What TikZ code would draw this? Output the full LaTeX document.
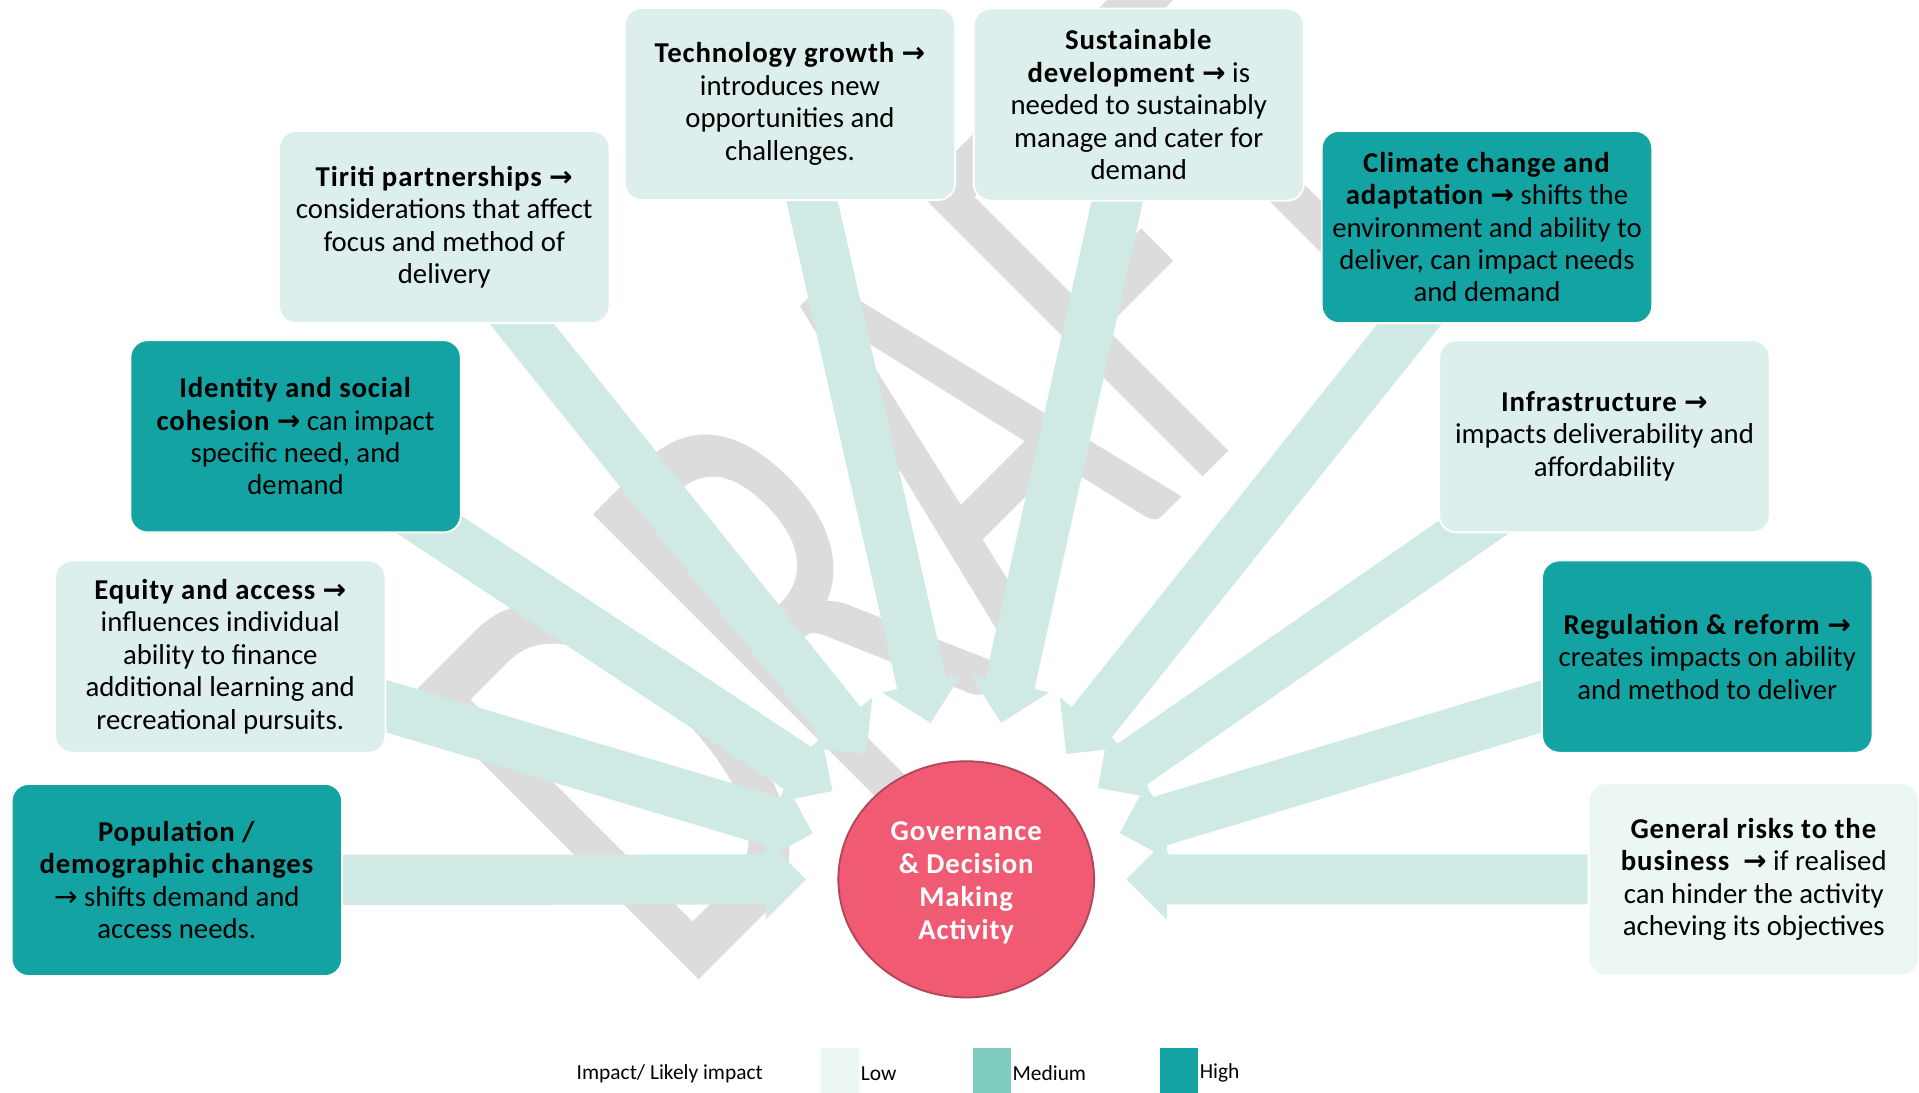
\documentclass[tikz,border=0pt]{standalone}
\usepackage{fontspec}
\setmainfont{Carlito}[BoldFeatures={LetterSpace=3}]
\newfontfamily\arrfont{DejaVu Sans}
\newfontfamily\wmfont{Carlito}
\usetikzlibrary{calc,shapes.geometric}
\definecolor{high}{HTML}{13A3A3}
\definecolor{lowA}{HTML}{DCEFEC}
\definecolor{lowB}{HTML}{ECF7F5}
\definecolor{med}{HTML}{7FCDC0}
\definecolor{flowc}{HTML}{CFEAE5}
\definecolor{circfill}{HTML}{F05A72}
\definecolor{circline}{HTML}{B0465A}
\definecolor{wmc}{HTML}{DCDCDC}
\newcommand\myarrow{{\arrfont\fontsize{23}{23}\selectfont →}}
\pgfdeclarelayer{bg}
\pgfdeclarelayer{wm}
\pgfdeclarelayer{arr}
\pgfsetlayers{bg,wm,arr,main}
\tikzset{
  box/.style={rounded corners=14pt, minimum width=270pt, minimum height=157pt,
    draw=white, line width=1.5pt, align=center, inner sep=0pt,
    font=\fontsize{23.5}{26.5}\selectfont},
  hi/.style={box, fill=high},
  lo/.style={box, fill=lowA},
  lob/.style={box, fill=lowB},
  swatch/.style={minimum width=31pt, minimum height=37pt, inner sep=0pt},
  legtext/.style={anchor=west, inner sep=1pt, font=\fontsize{17.5}{20}\selectfont},
}
\newcommand\flow[1]{%
  \coordinate (#1-tip) at ($(C.center)!131pt!(#1.center)$);
  \coordinate (#1-hb) at ($(C.center)!164pt!(#1.center)$);
  \fill[flowc] (#1-tip)
    -- ($(#1-hb)!33pt!90:(#1.center)$)
    -- ($(#1-hb)!20.5pt!90:(#1.center)$)
    -- ($(#1.center)!20.5pt!-90:(C.center)$)
    -- ($(#1.center)!20.5pt!90:(C.center)$)
    -- ($(#1-hb)!20.5pt!-90:(#1.center)$)
    -- ($(#1-hb)!33pt!-90:(#1.center)$)
    -- cycle;}
\begin{document}
\begin{tikzpicture}[x=1pt,y=-1pt]
\useasboundingbox (0,0) rectangle (1568,893);
\begin{pgfonlayer}{bg}
\fill[white] (0,0) rectangle (1568,893);
\end{pgfonlayer}
\begin{pgfonlayer}{wm}
\node[rotate=45, anchor=base west, inner sep=0pt, outer sep=0pt, text=wmc,
  font=\wmfont\fontsize{515}{515}\selectfont] (wm) at (555.5,816.5) {\scalebox{0.65}[1]{DRAFT}};
\end{pgfonlayer}

% boxes
\node[hi] (pop) at (144.5,719) {\textbf{Population /}\\\textbf{demographic changes}\\\myarrow{} shifts demand and\\access needs.};
\node[lo] (equ) at (180,536.5) {\textbf{Equity and access \myarrow}\\influences individual\\ability to finance\\additional learning and\\recreational pursuits.};
\node[hi] (ide) at (241.5,356.5) {\textbf{Identity and social}\\\textbf{cohesion \myarrow} can impact\\specific need, and\\demand};
\node[lo] (tir) at (363,185.5) {\textbf{Tiriti partnerships \myarrow}\\considerations that affect\\focus and method of\\delivery};
\node[lo] (tec) at (645.5,85) {\textbf{Technology growth \myarrow}\\introduces new\\opportunities and\\challenges.};
\node[lo] (sus) at (930.5,85.5) {\textbf{Sustainable}\\\textbf{development \myarrow} is\\needed to sustainably\\manage and cater for\\demand};
\node[hi] (cli) at (1215,185.5) {\textbf{Climate change and}\\\textbf{adaptation \myarrow} shifts the\\environment and ability to\\deliver, can impact needs\\and demand};
\node[lo] (inf) at (1311,356.5) {\textbf{Infrastructure \myarrow}\\impacts deliverability and\\affordability};
\node[hi] (reg) at (1395,536.5) {\textbf{Regulation \& reform \myarrow}\\creates impacts on ability\\and method to deliver};
\node[lob] (gen) at (1433,718.5) {\textbf{General risks to the}\\\textbf{business}\ \ \textbf{\myarrow} if realised\\can hinder the activity\\acheving its objectives};

% centre
\node[ellipse, minimum width=209pt, minimum height=193pt, fill=circfill, draw=circline,
  line width=1.5pt, inner sep=0pt, align=center, text=white,
  font=\bfseries\fontsize{23.5}{27}\selectfont] (C) at (789.5,718.5) {\raisebox{-3pt}[\height][\depth]{\parbox{130pt}{\centering Governance\\\& Decision\\Making\\Activity}}};

\begin{pgfonlayer}{arr}
\flow{pop}\flow{equ}\flow{ide}\flow{tir}\flow{tec}
\flow{sus}\flow{cli}\flow{inf}\flow{reg}\flow{gen}
\end{pgfonlayer}

% legend
\node[legtext] (legt) at (470,877) {Impact/ Likely impact};
\node[swatch, fill=lowB] (swl) at (686.5,874.5) {};
\node[legtext] (legl) at ([yshift=-2.5pt]swl.east) {Low};
\node[swatch, fill=med] (swm) at (810.5,874.5) {};
\node[legtext] (legm) at ([yshift=-2.5pt]swm.east) {Medium};
\node[swatch, fill=high] (swh) at (963.5,874.5) {};
\node[legtext] (legh) at ([yshift=-2.5pt]swh.east) {High};
\end{tikzpicture}
\end{document}
